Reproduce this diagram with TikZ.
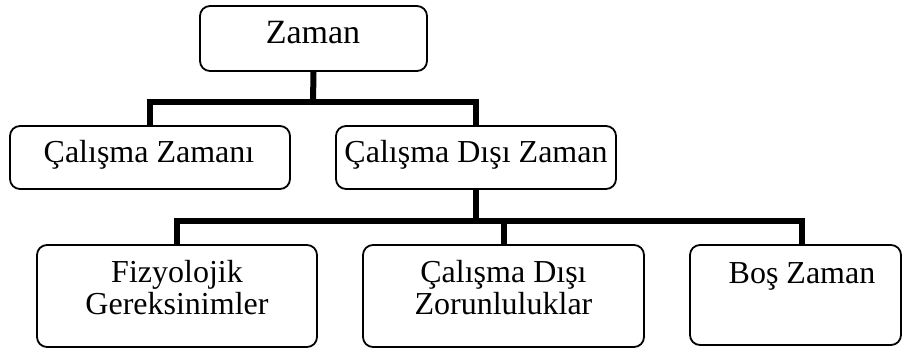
\documentclass[tikz,border=0pt]{standalone}
\usepackage{fontspec}
\setmainfont{Liberation Serif}
\begin{document}
\begin{tikzpicture}[x=1pt,y=-1pt,
  box/.style={draw=black, line width=1.8pt, rounded corners=10pt, fill=white, inner sep=0pt},
  conn/.style={draw=black, line width=6pt, line join=miter},
  lbl/.style={inner sep=0pt, font=\fontsize{32}{32}\selectfont, align=center},
  toplbl/.style={inner sep=0pt, font=\fontsize{34}{34}\selectfont}
]
\useasboundingbox (0,0) rectangle (904,349);
% boxes
\node[box, minimum width=227pt, minimum height=65pt] (zaman) at (313.5,38.5) {};
\node[box, minimum width=280pt, minimum height=63pt] (cz) at (150,157.5) {};
\node[box, minimum width=280pt, minimum height=63pt] (cdz) at (476,157.5) {};
\node[box, minimum width=280pt, minimum height=102pt] (fiz) at (177,296) {};
\node[box, minimum width=281pt, minimum height=102pt] (zor) at (503.5,296) {};
\node[box, minimum width=211pt, minimum height=100pt] (bos) at (795.5,295) {};
% texts
\node[toplbl, anchor=base] (tzaman) at (313,43) {Zaman};
\node[lbl, anchor=base] (tcz) at (149,162) {Çalışma Zamanı};
\node[lbl, anchor=base] (tcdz) at (476,162) {Çalışma Dışı Zaman};
\node[lbl] (tfiz) at (177,288) {Fizyolojik\\Gereksinimler};
\node[lbl] (tzor) at (503.5,288) {Çalışma Dışı\\Zorunluluklar};
\node[lbl, anchor=base] (tbos) at (802,283) {Boş Zaman};
% connectors
\coordinate (j1) at (313,102);
\coordinate (j2) at (476,221);
\coordinate (bosin) at (802,245);
\draw[conn] (zaman.south) -- (j1);
\draw[conn] (cz.north) |- (j1) -| (cdz.north);
\draw[conn] (cdz.south) -- (j2);
\draw[conn] (fiz.north) |- (j2) -| (bosin);
\draw[conn] (zor.north) -- (zor.north |- j2);
\end{tikzpicture}
\end{document}
